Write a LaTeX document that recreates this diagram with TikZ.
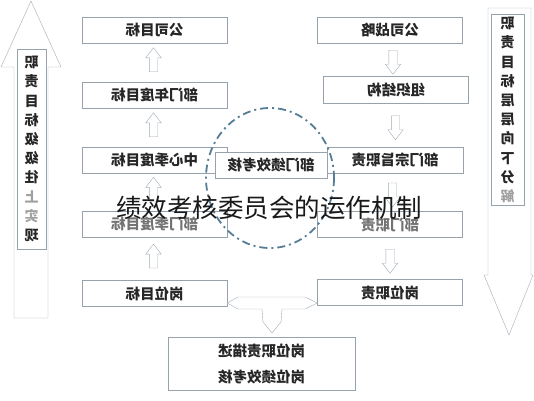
\documentclass[tikz,border=0pt]{standalone}
\usepackage{fontspec}
\newfontfamily\cjk{Noto Sans CJK SC}
\usetikzlibrary{shapes.arrows,calc}
\definecolor{boxline}{RGB}{150,162,172}
\definecolor{arrline}{RGB}{160,172,180}
\definecolor{ringblue}{RGB}{85,125,150}
\definecolor{fadetext}{RGB}{160,160,160}

\begin{document}
\begin{tikzpicture}[x=1pt,y=-1pt,
	goalbox/.style={draw=boxline, fill=white, minimum width=145pt, minimum height=26pt, inner sep=0pt, font=\cjk\bfseries\fontsize{14.5}{16}\selectfont, text=black!85, xscale=-1},
	uparr/.style={single arrow, draw=arrline, fill=white, shape border rotate=90, inner sep=4pt, minimum height=24pt, single arrow head extend=3.5pt, single arrow tip angle=75},
	downarr/.style={uparr, shape border rotate=270},
	sidetext/.style={draw=boxline, fill=white, inner sep=0pt, align=center, font=\cjk\bfseries\fontsize{14}{19.2}\selectfont, text=black!85, xscale=-1},
	ring/.style={draw=ringblue, line width=1.8pt, dash pattern=on 8pt off 4pt on 2pt off 4pt}]

	\useasboundingbox (0,0) rectangle (534,400);

	% the two big arrows at the sides
	\draw[arrline, fill=white] (14,318) -- (14,67) -- (1,67) -- (31,1) -- (61,67) -- (48,67) -- (48,318) -- cycle;
	\draw[arrline, fill=white] (488,8) -- (531,8) -- (531,275) -- (533,275) -- (509,335) -- (484,275) -- (488,275) -- cycle;
	\node[sidetext, minimum width=29pt, minimum height=200pt] (upnote) at (31.5,149) {职\\责\\目\\标\\级\\级\\往\\{\color{fadetext}上}\\{\color{fadetext}实}\\现};
	\node[sidetext, minimum width=33pt, minimum height=191pt] (downnote) at (507.5,110) {职\\责\\目\\标\\层\\层\\向\\下\\分\\{\color{fadetext}解}};

	% left column: goals
	\node[goalbox] (cogoal) at (154.5,30) {公司目标};
	\node[goalbox] (deptyear) at (154.5,95) {部门年度目标};
	\node[goalbox] (centerq) at (154.5,160) {中心季度目标};
	\node[goalbox, text=black!55] (deptq) at (154.5,224) {部门季度目标};
	\node[goalbox] (postgoal) at (154.5,293.5) {岗位目标};

	% right column: duties
	\node[goalbox] (costrat) at (390,30) {公司战略};
	\node[goalbox, minimum height=27pt] (orgstruct) at (396,89.5) {组织结构};
	\node[goalbox, minimum width=136pt] (deptaim) at (395,160) {部门宗旨职责};
	\node[goalbox, text=black!55] (deptduty) at (390,224.5) {部门职责};
	\node[goalbox] (postduty) at (390,292.5) {岗位职责};

	\node[goalbox, minimum width=112pt] (deptperf) at (271,165) {部门绩效考核};

	\foreach \a/\b in {cogoal/deptyear, deptyear/centerq, centerq/deptq, deptq/postgoal}
		\node[uparr] at ($(\a.south)!0.5!(\b.north)+(-1,0)$) {};
	\foreach \a/\b in {costrat/orgstruct, orgstruct/deptaim, deptaim/deptduty, deptduty/postduty}
		\node[downarr] at ($(\a.south)!0.5!(\b.north)$ -| 389,0) {};

	% joint arrow down to the post box (boxes are mirrored, so their west is on the right)
	\draw[arrline, fill=white] (postgoal.west |- 0,303) -- (238,297) -- (305,297) -- (postduty.east |- 0,303) -- (305,309) -- (282,309) -- (281,322) -- (272,333) -- (263,322) -- (262,309) -- (238,309) -- cycle;
	\node[goalbox, minimum width=187pt, minimum height=53pt, align=center, font=\cjk\bfseries\fontsize{14.5}{26}\selectfont] (postbox) at (261.5,363.5) {岗位职责描述\\岗位绩效考核};

	\draw[ring] (270,178) ellipse [x radius=64, y radius=70];

	\node[font=\cjk\fontsize{25.5}{28}\selectfont, text=black!90] (title) at (269,208) {绩效考核委员会的运作机制};

\end{tikzpicture}
\end{document}
